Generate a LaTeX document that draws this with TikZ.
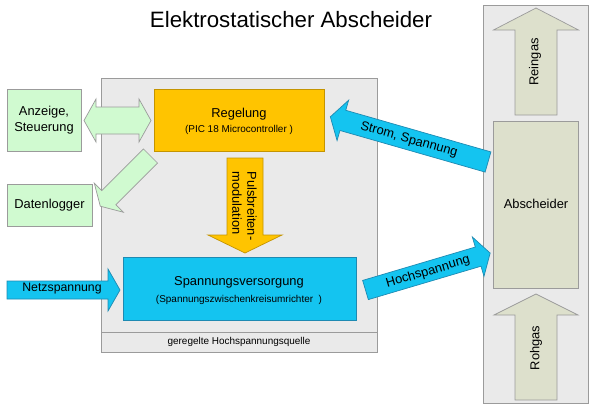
\documentclass[tikz,border=0pt]{standalone}
\usepackage{fontspec}
\setmainfont{Liberation Sans}
\usepackage{xcolor}
\usepackage{tikz}
\definecolor{PanelGray}{RGB}{234, 234, 234}
\definecolor{EdgeGray}{RGB}{155, 155, 155}
\definecolor{CtrlGold}{RGB}{255, 196, 0}
\definecolor{CtrlEdge}{RGB}{196, 148, 0}
\definecolor{PowerCyan}{RGB}{20, 196, 240}
\definecolor{PowerEdge}{RGB}{30, 138, 178}
\definecolor{IoGreen}{RGB}{208, 250, 208}
\definecolor{GasOlive}{RGB}{221, 224, 204}
% block arrow along the local x axis: length, shaft half width, head half width, head length
\newcommand{\blockarrow}[4]{(0,-#2) -- ({#1-#4},-#2) -- ({#1-#4},-#3) -- (#1,0) -- ({#1-#4},#3) -- ({#1-#4},#2) -- (0,#2) -- cycle}

\begin{document}
\begin{tikzpicture}[x=0.3mm, y=-0.3mm,
    panel/.style={fill=PanelGray, draw=EdgeGray, line width=0.6pt},
    iobox/.style={fill=IoGreen, draw=EdgeGray, line width=0.6pt, inner sep=0pt},
    gasbox/.style={fill=GasOlive, draw=EdgeGray, line width=0.6pt, inner sep=0pt},
    txt/.style={font=\fontsize{11}{13.7}\selectfont, align=center, inner sep=0pt},
    smalltxt/.style={font=\fontsize{8.5}{10}\selectfont, inner sep=0pt}]
    \useasboundingbox (0,0) rectangle (595,410);
    % background panels
    \draw[panel] (101,78) rectangle (377,352);
    \draw[EdgeGray, line width=0.6pt] (101,332) -- (377,332);
    \draw[panel] (483,5) rectangle (588,403);
    \node[font=\fontsize{19}{22}\selectfont] (title) at (291,20) {Elektrostatischer Abscheider};
    % blocks
    \node[iobox, minimum width=22.2mm, minimum height=18.6mm] (anzeige) at (44,120) {};
    \node[iobox, minimum width=25.5mm, minimum height=12.6mm] (logger) at (49.5,205) {};
    \node[fill=CtrlGold, draw=CtrlEdge, line width=0.6pt, inner sep=0pt,
          minimum width=51mm, minimum height=18.6mm] (regelung) at (239,120) {};
    \node[fill=PowerCyan, draw=PowerEdge, line width=0.6pt, inner sep=0pt,
          minimum width=69.9mm, minimum height=18.9mm] (versorgung) at (239.5,288.5) {};
    \node[gasbox, minimum width=25.5mm, minimum height=50.1mm] (abscheider) at (535.5,204.5) {};
    % arrows
    \draw[fill=IoGreen, draw=EdgeGray, line width=0.6pt]
        (84,120.5) -- (96,99) -- (96,107) -- (139,107) -- (139,99) -- (151,120.5)
        -- (139,142) -- (139,134) -- (96,134) -- (96,142) -- cycle;
    \begin{scope}[shift={(150.5,156)}, rotate=225]
        \draw[fill=IoGreen, draw=EdgeGray, line width=0.6pt] \blockarrow{71}{10}{20.5}{12};
    \end{scope}
    \begin{scope}[shift={(245,158)}, rotate=-90]
        \draw[fill=CtrlGold, draw=CtrlEdge, line width=0.6pt] \blockarrow{95}{18}{37}{18};
    \end{scope}
    \begin{scope}[shift={(7,290)}]
        \draw[fill=PowerCyan, draw=PowerEdge, line width=0.6pt] \blockarrow{113}{9}{21}{12};
    \end{scope}
    \begin{scope}[shift={(488,162)}, rotate=164]
        \draw[fill=PowerCyan, draw=PowerEdge, line width=0.6pt] \blockarrow{164}{10.5}{21}{13};
    \end{scope}
    \begin{scope}[shift={(365.5,290)}, rotate=16.5]
        \draw[fill=PowerCyan, draw=PowerEdge, line width=0.6pt] \blockarrow{130}{10}{20.5}{12.5};
    \end{scope}
    \begin{scope}[shift={(536,115)}, rotate=90]
        \draw[fill=GasOlive, draw=EdgeGray, line width=0.6pt] \blockarrow{107}{21}{42.5}{22};
    \end{scope}
    \begin{scope}[shift={(536,400)}, rotate=90]
        \draw[fill=GasOlive, draw=EdgeGray, line width=0.6pt] \blockarrow{106}{21}{42}{21};
    \end{scope}
    % texts
    \node[txt] (anzeigeText) at (anzeige) {Anzeige,\\Steuerung};
    \node[txt] (loggerText) at (logger) {Datenlogger};
    \node[txt] (regelungText) at (239,114) {Regelung};
    \node[smalltxt] (picText) at (239,130) {(PIC 18 Microcontroller )};
    \node[txt] (versorgungText) at (239,282) {Spannungsversorgung};
    \node[smalltxt] (umrichterText) at (239,300) {(Spannungszwischenkreisumrichter\ \ )};
    \node[smalltxt] (quelleText) at (239,342) {geregelte Hochspannungsquelle};
    \node[txt, align=left, font=\fontsize{11}{12.8}\selectfont, rotate=-90] (pwmText) at (244.5,206) {Pulsbreiten-\\modulation};
    \node[txt, font=\fontsize{10.5}{12}\selectfont] (netzText) at (62,289) {Netzspannung};
    \node[txt, rotate=-16] (stromText) at (409,140) {Strom, Spannung};
    \node[txt, rotate=16.5] (hvText) at (428,272) {Hochspannung};
    \node[txt] (abscheiderText) at (536,204) {Abscheider};
    \node[txt, rotate=90] (reinText) at (535,62) {Reingas};
    \node[txt, rotate=90] (rohText) at (536,348) {Rohgas};
\end{tikzpicture}
\end{document}
